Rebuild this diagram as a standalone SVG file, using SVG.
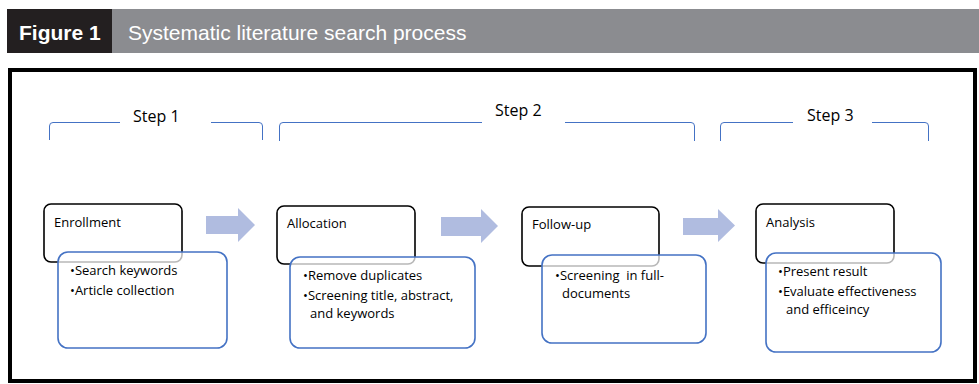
<svg xmlns="http://www.w3.org/2000/svg" width="979" height="384" viewBox="0 0 979 384">
<style>
.hdr{font-family:"Liberation Sans",Arial,sans-serif;font-size:21px;fill:#fff}
.step{font-family:"Open Sans","Liberation Sans",sans-serif;font-size:16px;fill:#000}
.t{font-family:"Open Sans","Liberation Sans",sans-serif;font-size:13px;fill:#000;white-space:pre}
.head{fill:#fff;stroke:#000;stroke-width:1.6}
.body{fill:#fff;fill-opacity:0.72;stroke:#4472c4;stroke-width:1.6}
.br{fill:none;stroke:#4472c4;stroke-width:1}
.arr{fill:#b0bce0}
</style>
<rect x="0" y="0" width="979" height="384" fill="#fff"/>
<g id="header">
<rect x="7" y="9" width="972" height="44" fill="#8b8c90"/>
<rect x="7" y="9" width="105" height="44" fill="#231f20"/>
<text class="hdr" x="19" y="40" font-weight="bold">Figure 1</text>
<text class="hdr" x="128" y="40" fill="#f2f2f2" font-size="22">Systematic literature search process</text>
</g>
<rect x="10" y="70" width="965" height="311" fill="none" stroke="#000" stroke-width="4"/>
<g id="steps">
<path class="br" d="M49.5,140 V126 Q49.5,122.5 53,122.5 H120 M211,122.5 H259 Q262.5,122.5 262.5,126 V140"/>
<text class="step" x="133" y="122">Step 1</text>
<path class="br" d="M279.5,141 V126 Q279.5,122.5 283,122.5 H482 M565,122.5 H691 Q694.5,122.5 694.5,126 V141"/>
<text class="step" x="495" y="116">Step 2</text>
<path class="br" d="M720.5,141 V126 Q720.5,122.5 724,122.5 H793 M872,122.5 H925 Q928.5,122.5 928.5,126 V141"/>
<text class="step" x="807" y="121">Step 3</text>
</g>
<g id="connectors">
<polygon class="arr" points="206,216 238,216 238,208 255,225 238,242 238,234 206,234"/>
<polygon class="arr" points="441,217 481,217 481,209 498,226 481,243 481,236 441,236"/>
<polygon class="arr" points="683,218 718,218 718,209 735,225.5 718,242 718,235 683,235"/>
</g>
<g id="enrollment">
<rect class="head" x="44" y="204" width="138" height="58" rx="7"/>
<text class="t" x="54" y="227">Enrollment</text>
<rect class="body" x="58" y="252" width="169" height="96" rx="10"/>
<text class="t" x="70" y="275">•Search keywords</text>
<text class="t" x="70" y="295">•Article collection</text>
</g>
<g id="allocation">
<rect class="head" x="277" y="206" width="138" height="58" rx="7"/>
<text class="t" x="287" y="228">Allocation</text>
<rect class="body" x="290" y="257" width="185" height="91" rx="10"/>
<text class="t" x="303" y="280">•Remove duplicates</text>
<text class="t" x="303" y="300">•Screening title, abstract,</text>
<text class="t" x="310" y="318">and keywords</text>
</g>
<g id="followup">
<rect class="head" x="522" y="207" width="137" height="59" rx="7"/>
<text class="t" x="532" y="229">Follow-up</text>
<rect class="body" x="542" y="255" width="164" height="88" rx="10"/>
<text class="t" x="555" y="280" xml:space="preserve">•Screening  in full-</text>
<text class="t" x="562" y="298">documents</text>
</g>
<g id="analysis">
<rect class="head" x="756" y="204" width="138" height="59" rx="7"/>
<text class="t" x="766" y="227">Analysis</text>
<rect class="body" x="766" y="253" width="175" height="99" rx="10"/>
<text class="t" x="778" y="276">•Present result</text>
<text class="t" x="778" y="296">•Evaluate effectiveness</text>
<text class="t" x="786" y="314">and efficeincy</text>
</g>
</svg>
